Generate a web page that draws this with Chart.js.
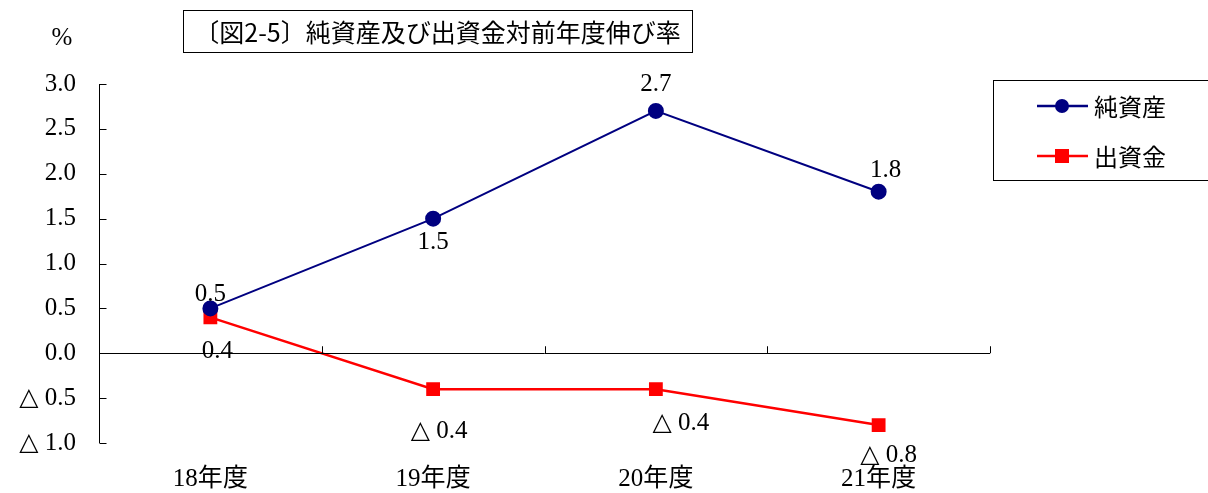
<!DOCTYPE html>
<html><head><meta charset="utf-8">
<script src="https://cdn.jsdelivr.net/npm/chart.js@4.4.0/dist/chart.umd.min.js"></script>
<style>html,body{margin:0;padding:0;background:#fff}#wrap{width:1208px;height:493px;position:relative}</style>
</head><body><div id="wrap"><canvas id="c" width="1208" height="493"></canvas></div>
<script>
const categories = ['18年度','19年度','20年度','21年度'];
const netAssets = [0.5, 1.5, 2.7, 1.8];
const capital = [0.4, -0.4, -0.4, -0.8];
const yTicks = [3.0, 2.5, 2.0, 1.5, 1.0, 0.5, 0.0, -0.5, -1.0];
const titleText = '〔図2-5〕純資産及び出資金対前年度伸び率';
const unitText = '%';
// label offsets (style only)
const netLabelOffsets = [[0,-14],[0,24],[0,-26],[7,-21]];
const capLabelOffsets = [[7,34],[6,42],[25,34],[10,30]];

const SERIF = '"Liberation Serif","DejaVu Serif","Noto Sans CJK JP",serif';
const SANS = '"Noto Sans CJK JP","Noto Sans",sans-serif';
function fmt(v){ return v < 0 ? '△ ' + Math.abs(v).toFixed(1) : v.toFixed(1); }

const decor = {
  id:'decor',
  afterDatasetsDraw(chart){
    const ctx = chart.ctx, x = chart.scales.x, y = chart.scales.y;
    const ca = chart.chartArea;
    ctx.save();
    const y0 = y.getPixelForValue(0);
    ctx.strokeStyle = '#000'; ctx.lineWidth = 1;
    ctx.beginPath(); ctx.moveTo(ca.left, Math.round(y0)+0.5); ctx.lineTo(ca.right, Math.round(y0)+0.5); ctx.stroke();
    for (let i=0;i<categories.length;i++){
      const px = Math.round(x.getPixelForValue(i) + (x.getPixelForValue(1)-x.getPixelForValue(0))/2)+0.5;
      ctx.beginPath(); ctx.moveTo(px, y0); ctx.lineTo(px, y0-7); ctx.stroke();
    }
    const lx = Math.round(ca.left)+0.5;
    ctx.beginPath(); ctx.moveTo(lx, y.getPixelForValue(3)); ctx.lineTo(lx, y.getPixelForValue(-1)); ctx.stroke();
    yTicks.forEach(v=>{ const py = Math.round(y.getPixelForValue(v))+0.5; ctx.beginPath(); ctx.moveTo(lx,py); ctx.lineTo(lx+7,py); ctx.stroke(); });
    ctx.fillStyle = '#000'; ctx.font = '25px ' + SERIF; ctx.textAlign='center'; ctx.textBaseline='middle';
    const m0 = chart.getDatasetMeta(0), m1 = chart.getDatasetMeta(1);
    netAssets.forEach((v,i)=>{ const p = m0.data[i]; ctx.fillText(fmt(v), p.x+netLabelOffsets[i][0], p.y+netLabelOffsets[i][1]); });
    capital.forEach((v,i)=>{ const p = m1.data[i]; ctx.fillText(fmt(v), p.x+capLabelOffsets[i][0], p.y+capLabelOffsets[i][1]); });
    ctx.font = '25px ' + SERIF; ctx.fillText(unitText, 62, 38);
    ctx.font = '25px ' + SANS;
    const tw = ctx.measureText(titleText).width;
    const bx = 183, by = 10, bw = 509, bh = 42;
    ctx.fillStyle='#fff'; ctx.fillRect(bx,by,bw,bh);
    ctx.strokeStyle='#000'; ctx.strokeRect(bx+0.5,by+0.5,bw,bh);
    ctx.fillStyle='#000'; ctx.textAlign='center';
    ctx.save(); ctx.translate(bx+bw/2, by+bh/2+1); const sc = Math.min(1,(bw-12)/tw); ctx.scale(sc,1); ctx.fillText(titleText,0,0); ctx.restore();
    ctx.strokeStyle='#000'; ctx.lineWidth=1;
    ctx.strokeRect(993.5, 80.5, 230, 100);
    const entries = [{t:'純資産',c:'#000080',s:'circle',y:106},{t:'出資金',c:'#ff0000',s:'square',y:156}];
    entries.forEach(e=>{
      ctx.strokeStyle=e.c; ctx.fillStyle=e.c; ctx.lineWidth=2.5;
      ctx.beginPath(); ctx.moveTo(1037,e.y); ctx.lineTo(1088,e.y); ctx.stroke();
      if(e.s==='circle'){ ctx.beginPath(); ctx.arc(1062,e.y,7,0,Math.PI*2); ctx.fill(); }
      else ctx.fillRect(1055,e.y-7,14,14);
      ctx.fillStyle='#000'; ctx.font='24px '+SANS; ctx.textAlign='left'; ctx.fillText(e.t,1094,e.y+1);
    });
    ctx.restore();
  }
};

new Chart(document.getElementById('c'), {
  type:'line',
  data:{ labels:categories, datasets:[
    {label:'純資産', data:netAssets, borderColor:'#000080', backgroundColor:'#000080', borderWidth:2, pointStyle:'circle', pointRadius:7, pointHoverRadius:7, tension:0},
    {label:'出資金', data:capital, borderColor:'#ff0000', backgroundColor:'#ff0000', borderWidth:2.5, pointStyle:'rect', pointRadius:8, pointHoverRadius:8, tension:0}
  ]},
  options:{
    responsive:false, animation:false, devicePixelRatio:1,
    layout:{padding:{left:0,right:218,top:84,bottom:0}},
    plugins:{legend:{display:false}, tooltip:{enabled:false}, title:{display:false}},
    scales:{
      x:{ type:'category', offset:true, grid:{display:false, drawTicks:false}, border:{display:false},
          ticks:{font:{family:SERIF,size:25}, color:'#000', padding:21},
          afterFit(s){ s.height = 50; } },
      y:{ min:-1, max:3, grid:{display:false, drawTicks:false}, border:{display:false},
          ticks:{stepSize:0.5, font:{family:SERIF,size:25}, color:'#000', padding:23, callback:(v)=>fmt(v)},
          afterFit(s){ s.width = 99; } }
    }
  },
  plugins:[decor]
});
</script></body></html>
